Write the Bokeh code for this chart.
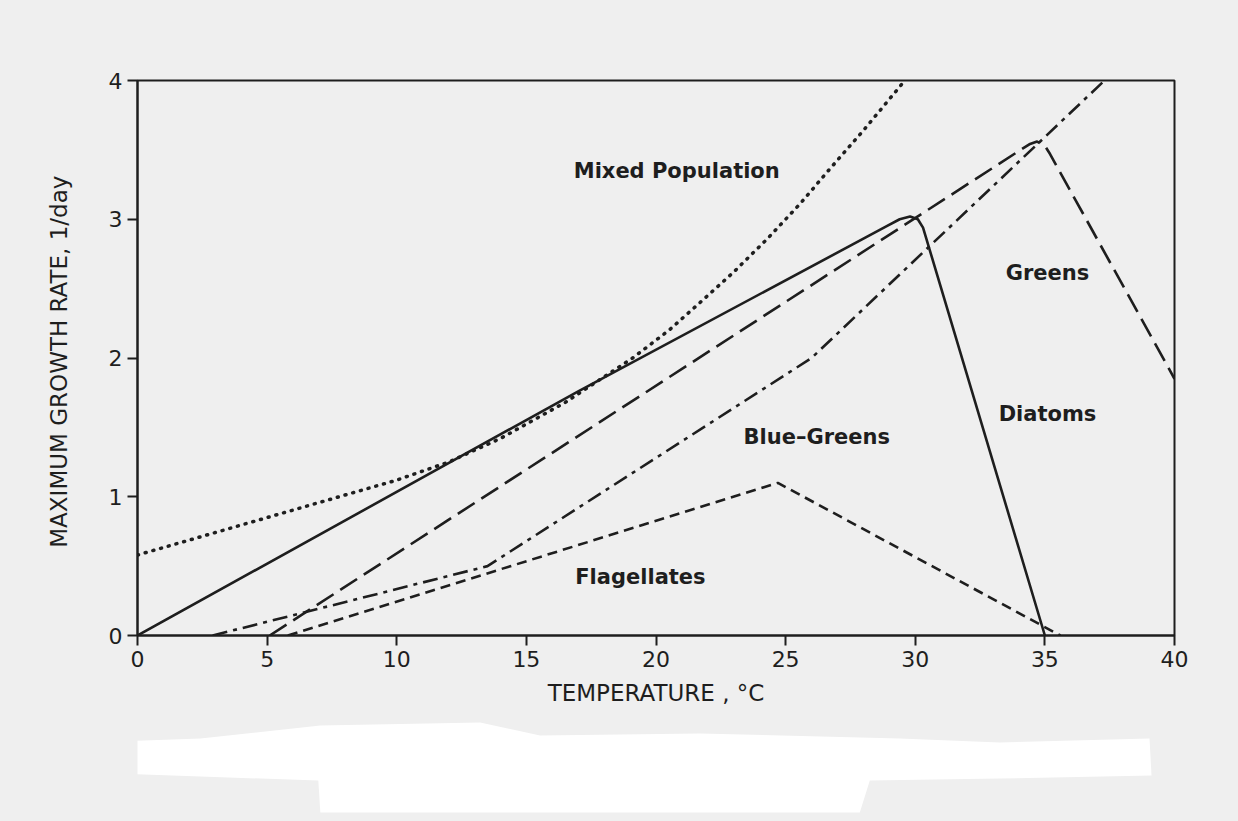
from bokeh.plotting import figure
from bokeh.layouts import column
from bokeh.models import Range1d, FixedTicker
from bokeh.core.properties import value
from bokeh.embed import file_html
from bokeh.resources import INLINE

# Temperature (deg C) and maximum growth rate (1/day) for each algal group
mixed_t = [0, 5, 10, 12, 14, 16.5, 19.1, 20.5, 21.7, 23.0, 24.3, 25.6, 26.6, 28.0, 29.6]
mixed_r = [0.58, 0.85, 1.12, 1.25, 1.42, 1.68, 2.00, 2.20, 2.40, 2.62, 2.86, 3.12, 3.34, 3.64, 4.00]

diatoms_t = [0, 17.0, 28.9, 29.4, 29.8, 30.1, 30.3, 35.0]
diatoms_r = [0, 1.76, 2.95, 3.00, 3.02, 3.00, 2.94, 0]

greens_t = [5.1, 33.9, 34.4, 34.7, 35.0, 35.2, 40.0]
greens_r = [0, 3.48, 3.54, 3.56, 3.53, 3.47, 1.85]

bluegreens_t = [2.9, 13.5, 26.0, 37.3]
bluegreens_r = [0, 0.50, 2.00, 4.00]

flagellates_t = [5.8, 24.7, 35.6]
flagellates_r = [0, 1.10, 0]

label_text = ["Mixed Population", "Greens", "Diatoms", "Blue\u2013Greens", "Flagellates"]
label_t = [20.8, 35.1, 35.1, 26.2, 19.4]
label_r = [3.35, 2.61, 1.60, 1.43, 0.42]

x_ticks = [0, 5, 10, 15, 20, 25, 30, 35, 40]
y_ticks = [0, 1, 2, 3, 4]

INK = "#1e1e1e"
PAPER = "#efefef"
FONT = "DejaVu Sans"

p = figure(width=1238, height=721, output_backend="svg", toolbar_location=None,
           x_range=Range1d(0, 40), y_range=Range1d(0, 4),
           min_border_left=137, min_border_right=64,
           min_border_top=80, min_border_bottom=86)

p.background_fill_color = PAPER
p.border_fill_color = PAPER
p.grid.visible = False
p.outline_line_color = INK
p.outline_line_width = 2

for ax in (p.xaxis[0], p.yaxis[0]):
    ax.axis_line_color = INK
    ax.axis_line_width = 2
    ax.major_tick_line_color = INK
    ax.major_tick_line_width = 2
    ax.major_tick_out = 10
    ax.major_tick_in = 0
    ax.minor_tick_line_color = None
    ax.major_label_text_font = FONT
    ax.major_label_text_font_size = "22px"
    ax.major_label_text_color = INK
    ax.axis_label_text_font = FONT
    ax.axis_label_text_font_size = "23px"
    ax.axis_label_text_font_style = "normal"
    ax.axis_label_text_color = INK

p.xaxis.ticker = FixedTicker(ticks=x_ticks)
p.yaxis.ticker = FixedTicker(ticks=y_ticks)
p.xaxis.major_label_standoff = 5
p.yaxis.major_label_standoff = 5
p.xaxis.axis_label = "TEMPERATURE , \u00b0C"
p.yaxis.axis_label = "MAXIMUM  GROWTH RATE, 1/day"
p.xaxis.axis_label_standoff = 10
p.yaxis.axis_label_standoff = 34

# growth-rate curves
p.line(mixed_t, mixed_r, line_color=INK, line_width=3.5, line_dash="1 7", line_cap="round")
p.line(diatoms_t, diatoms_r, line_color=INK, line_width=2.6, line_join="round")
p.line(greens_t, greens_r, line_color=INK, line_width=2.6, line_dash="20 8", line_join="round")
p.line(bluegreens_t, bluegreens_r, line_color=INK, line_width=2.6, line_dash="15 6 4 6")
p.line(flagellates_t, flagellates_r, line_color=INK, line_width=2.6, line_dash="10 6")

p.text(label_t, label_r, text=label_text, text_align="center", text_baseline="middle",
       text_font=value(FONT), text_font_size="21px", text_font_style="bold",
       text_color=INK)

# blank strip beneath the chart; the column lines its frame up with the chart frame,
# so its x range spans the same page pixels as the chart frame (y grows downward)
strip = figure(width=1238, height=100, output_backend="svg", toolbar_location=None,
               x_range=Range1d(137, 1175), y_range=Range1d(821, 721),
               min_border=0, min_border_left=0, min_border_right=0,
               min_border_top=0, min_border_bottom=0)
strip.axis.visible = False
strip.grid.visible = False
strip.outline_line_color = None
strip.background_fill_color = None
strip.border_fill_color = PAPER
blank_x = [85, 200, 320, 480, 540, 700, 900, 1000, 1150, 1152, 1000, 870, 860, 320, 318, 200, 85]
blank_y = [742, 738, 725, 722, 735, 733, 738, 742, 738, 775, 778, 780, 812, 812, 780, 776, 772]
strip.patch(blank_x, blank_y, fill_color="white", line_color=None)

page = column(p, strip, spacing=0)
page.styles = {"background-color": PAPER}
open("out.html", "w").write(file_html(page, INLINE))
